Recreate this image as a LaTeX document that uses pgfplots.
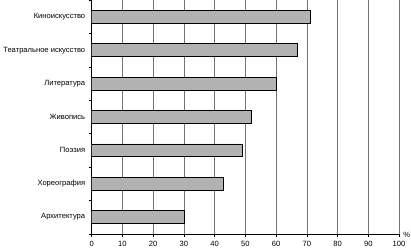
\documentclass[border=0pt]{standalone}
\usepackage{pgfplots}
\pgfplotsset{compat=1.18}
\usepackage{fontspec}
\setmainfont{Liberation Sans}
\begin{document}
\begin{tikzpicture}
\begin{axis}[
  scale only axis, width=308pt, height=234pt,
  xmin=0, xmax=100, ymin=-0.5, ymax=6.5,
  axis x line*=bottom, axis y line*=left,
  axis line style={black, line width=0.6pt},
  xtick={0,10,...,100},
  xmajorgrids, grid style={black!55, line width=0.6pt},
  ytick={0,...,6},
  yticklabels={Архитектура,Хореография,Поэзия,Живопись,Литература,Театральное искусство,Киноискусство},
  minor ytick={-0.5,0.5,...,6.5},
  major y tick style={draw=none},
  tick style={black, line width=0.6pt},
  tick align=outside, major tick length=3pt, minor tick length=3pt,
  /pgf/number format/assume math mode=true,
  ticklabel style={font=\fontsize{7.6}{9}\selectfont},
  xticklabel style={yshift=-1pt},
  xlabel={\%}, xlabel style={at={(rel axis cs:1,0)}, anchor=west, inner sep=1pt, xshift=3pt, yshift=-1.5pt, font=\fontsize{7.6}{9}\selectfont},
]
\addplot[xbar, bar width=13pt, fill=black!30, draw=black, line width=0.8pt]
  coordinates {(30,0) (43,1) (49,2) (52,3) (60,4) (67,5) (71,6)};
\end{axis}
\end{tikzpicture}
\end{document}
